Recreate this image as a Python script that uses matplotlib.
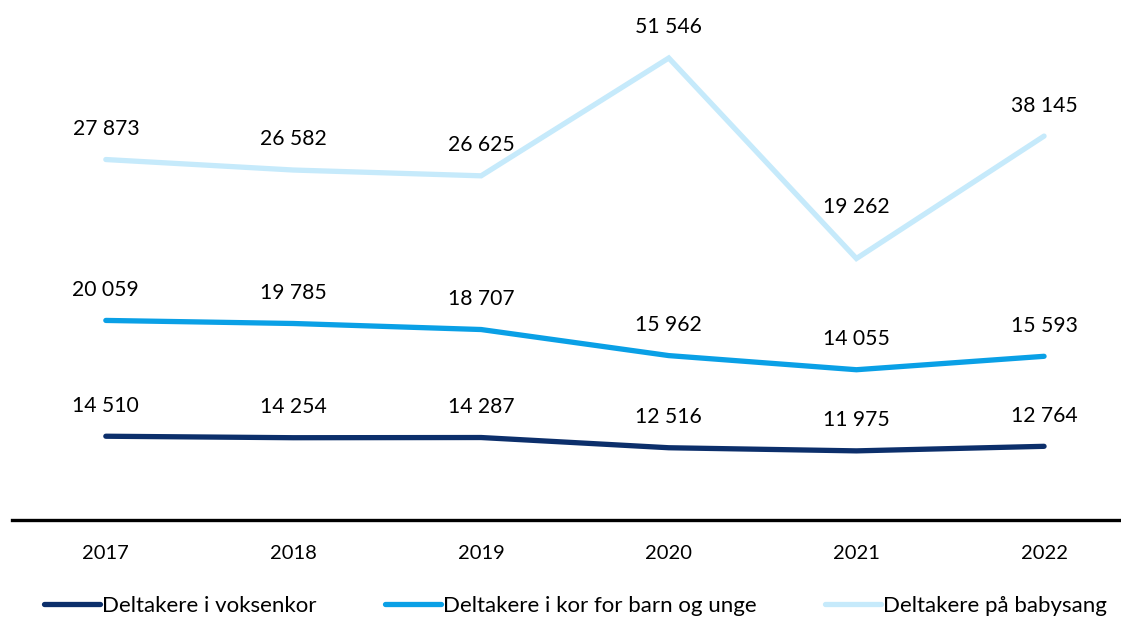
import matplotlib
matplotlib.use("Agg")
import matplotlib.pyplot as plt
import numpy as np

years = ["2017", "2018", "2019", "2020", "2021", "2022"]
voksen = [14510, 14254, 14287, 12516, 11975, 12764]
barn = [20059, 19785, 18707, 15962, 14055, 15593]
baby = [27873, 26582, 26625, 51546, 19262, 38145]

names = ["Deltakere i voksenkor", "Deltakere i kor for barn og unge", "Deltakere på babysang"]
colors = ["#0c2f6b", "#0aa0e6", "#c6eafb"]

plt.rcParams['font.family'] = ['Lato', 'DejaVu Sans']

fig = plt.figure(figsize=(11.21, 6.19), dpi=100)
ax = fig.add_axes([12/1121, 99/619, 1109/1121, 520/619])

x = np.arange(len(years))
series = [voksen, barn, baby]
cum = np.zeros(len(years))
for vals, name, col in zip(series, names, colors):
    cum = cum + np.array(vals)
    ax.plot(x, cum, color=col, lw=3.8, label=name, solid_capstyle='round', solid_joinstyle='miter')
    for xi, yi, v in zip(x, cum, vals):
        off = 22
        if name == names[2] and xi == 4:
            off = 37
        ax.annotate(f"{v:,}".replace(",", " "), (xi, yi), xytext=(0, off),
                    textcoords="offset points", ha="center", va="center",
                    fontsize=15.2, color="#000000")

ax.set_xlim(-0.5, 5.41)
ax.set_ylim(0, 90075)
ax.set_xticks(x)
ax.set_xticklabels(years, fontsize=14.5)
ax.tick_params(axis='x', length=0, pad=18)
ax.set_yticks([])
for s in ["top", "right", "left"]:
    ax.spines[s].set_visible(False)
ax.spines["bottom"].set_linewidth(2.4)
ax.spines["bottom"].set_color("#000000")

fig.legend(loc="center left", bbox_to_anchor=(44/1121, 13/619), ncol=3, frameon=False,
           fontsize=16, handlelength=2.5, handletextpad=0.1, columnspacing=3.1,
           borderaxespad=0, borderpad=0)

fig.savefig("out.png", dpi=100)
